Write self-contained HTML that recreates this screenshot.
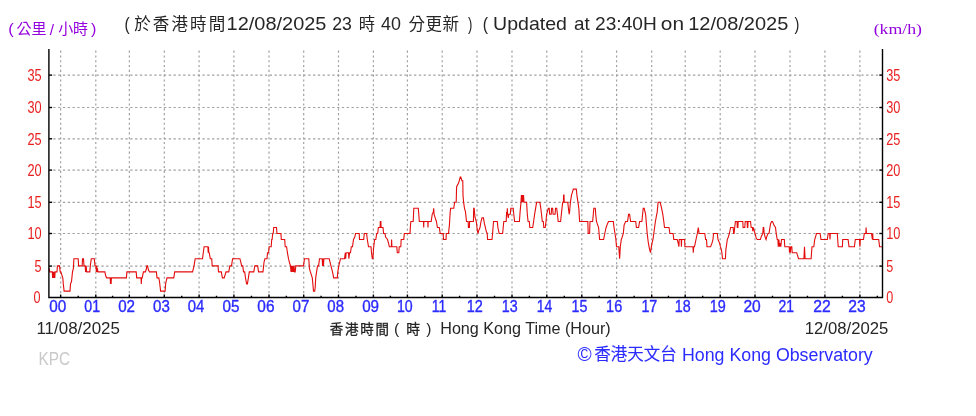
<!DOCTYPE html>
<html><head><meta charset="utf-8"><style>
html,body{margin:0;padding:0;background:#fff;}
body{width:976px;height:416px;overflow:hidden;}
svg{display:block;filter:blur(0.3px);}
.g{stroke:#a0a0a0;stroke-width:1.2;stroke-dasharray:2.3 2.51;}
.gv{stroke:#a0a0a0;stroke-width:1.2;stroke-dasharray:2.1 2.71;}
.d{fill:none;stroke:#e30c0c;stroke-width:1.1;stroke-linejoin:miter;}
.ax{fill:none;stroke:#000;stroke-width:1.4;}
.tk{stroke:#000;stroke-width:1.4;}
text{font-family:"Liberation Sans","Noto Sans CJK TC",sans-serif;white-space:pre;}
.yl{fill:#e82020;font-size:17.2px;}
.xl{fill:#2b2bff;font-size:16px;stroke:#2b2bff;stroke-width:0.35px;}
</style></head><body>
<svg width="976" height="416" viewBox="0 0 976 416">
<line x1="53.28" y1="266.1" x2="881.0" y2="266.1" class="g"/>
<line x1="53.28" y1="233.5" x2="881.0" y2="233.5" class="g"/>
<line x1="53.28" y1="202.3" x2="881.0" y2="202.3" class="g"/>
<line x1="53.28" y1="170.1" x2="881.0" y2="170.1" class="g"/>
<line x1="53.28" y1="138.8" x2="881.0" y2="138.8" class="g"/>
<line x1="53.28" y1="107.5" x2="881.0" y2="107.5" class="g"/>
<line x1="53.28" y1="75.1" x2="881.0" y2="75.1" class="g"/>
<line x1="60.65" y1="50.57" x2="60.65" y2="297.55" class="gv"/>
<line x1="95.80" y1="50.57" x2="95.80" y2="297.55" class="gv"/>
<line x1="129.35" y1="50.57" x2="129.35" y2="297.55" class="gv"/>
<line x1="164.30" y1="50.57" x2="164.30" y2="297.55" class="gv"/>
<line x1="199.10" y1="50.57" x2="199.10" y2="297.55" class="gv"/>
<line x1="233.90" y1="50.57" x2="233.90" y2="297.55" class="gv"/>
<line x1="269.00" y1="50.57" x2="269.00" y2="297.55" class="gv"/>
<line x1="303.70" y1="50.57" x2="303.70" y2="297.55" class="gv"/>
<line x1="338.50" y1="50.57" x2="338.50" y2="297.55" class="gv"/>
<line x1="373.40" y1="50.57" x2="373.40" y2="297.55" class="gv"/>
<line x1="407.40" y1="50.57" x2="407.40" y2="297.55" class="gv"/>
<line x1="442.20" y1="50.57" x2="442.20" y2="297.55" class="gv"/>
<line x1="477.00" y1="50.57" x2="477.00" y2="297.55" class="gv"/>
<line x1="512.00" y1="50.57" x2="512.00" y2="297.55" class="gv"/>
<line x1="546.80" y1="50.57" x2="546.80" y2="297.55" class="gv"/>
<line x1="581.80" y1="50.57" x2="581.80" y2="297.55" class="gv"/>
<line x1="616.60" y1="50.57" x2="616.60" y2="297.55" class="gv"/>
<line x1="651.70" y1="50.57" x2="651.70" y2="297.55" class="gv"/>
<line x1="685.20" y1="50.57" x2="685.20" y2="297.55" class="gv"/>
<line x1="720.20" y1="50.57" x2="720.20" y2="297.55" class="gv"/>
<line x1="755.00" y1="50.57" x2="755.00" y2="297.55" class="gv"/>
<line x1="790.00" y1="50.57" x2="790.00" y2="297.55" class="gv"/>
<line x1="824.90" y1="50.57" x2="824.90" y2="297.55" class="gv"/>
<line x1="859.90" y1="50.57" x2="859.90" y2="297.55" class="gv"/>
<polyline points="49.2,268.30 49.8,271.90 52.3,271.90 52.6,277.90 53.2,271.90 53.7,277.90 54.3,271.90 54.8,277.90 55.1,271.90 57.0,271.90 57.4,265.90 59.5,265.90 60.2,271.90 60.8,271.90 62.8,277.90 63.3,283.90 64.1,291.10 70.0,291.10 70.5,283.90 71.5,281.50 72.5,271.90 73.4,268.30 73.9,258.70 78.2,258.70 78.6,265.90 82.2,265.90 82.5,258.70 83.5,258.70 84.0,265.90 85.2,265.90 85.6,271.90 86.2,265.90 86.6,271.90 89.8,271.90 90.3,265.90 91.3,258.70 94.3,258.70 95.0,265.90 96.0,265.90 96.3,271.90 96.7,265.90 97.1,271.90 97.5,268.30 97.8,271.90 104.9,271.90 105.6,275.50 106.6,277.90 110.2,277.90 110.5,283.90 110.8,277.90 111.1,283.90 111.4,277.90 126.4,277.90 126.9,271.90 136.2,271.90 136.7,277.90 136.8,277.90 141.0,277.90 141.3,283.90 141.6,277.90 142.2,277.90 143.4,271.90 145.4,271.90 146.2,269.50 146.9,265.90 147.6,265.90 148.3,269.50 149.5,271.90 156.4,271.90 157.0,277.90 158.8,277.90 159.5,281.50 160.6,291.10 165.1,291.10 165.6,283.90 166.4,280.30 167.0,277.90 173.8,277.90 174.7,271.90 192.6,271.90 194.0,265.90 195.2,258.70 202.5,258.70 203.3,252.70 204.1,246.70 207.9,246.70 208.2,252.70 208.5,246.70 208.8,252.70 209.2,252.70 210.3,258.70 211.7,258.70 212.2,265.90 218.0,265.90 218.5,271.90 221.3,271.90 222.4,277.90 224.2,277.90 226.0,271.90 228.8,271.90 229.8,265.90 231.5,265.90 232.6,258.70 239.9,258.70 240.9,262.30 241.6,265.90 242.8,265.90 243.5,271.90 244.7,271.90 245.5,277.90 246.6,283.90 247.4,283.90 248.4,277.90 249.3,271.90 253.8,271.90 254.8,265.90 257.7,265.90 258.5,271.90 263.0,271.90 264.0,262.30 264.9,258.70 267.0,258.70 267.5,252.70 268.6,252.70 269.1,246.70 271.2,246.70 271.7,239.50 272.1,239.50 272.7,233.50 273.2,233.50 273.7,227.50 276.5,227.50 277.0,233.50 280.9,233.50 281.3,239.50 284.7,239.50 285.2,246.70 286.6,246.70 287.4,252.70 288.5,258.70 289.4,262.30 290.5,265.90 291.0,271.90 291.6,265.90 292.2,271.90 292.8,265.90 293.4,271.90 294.0,265.90 294.6,271.90 295.2,271.90 295.8,265.90 303.5,265.90 304.5,258.70 308.8,258.70 309.4,268.30 310.4,271.90 312.3,277.90 313.5,291.10 314.7,291.10 315.2,287.50 315.7,277.90 317.1,268.30 317.6,265.90 318.6,265.90 319.5,258.70 322.2,258.70 322.6,265.90 323.0,258.70 323.4,265.90 323.9,258.70 329.2,258.70 330.1,262.30 332.5,271.90 333.7,277.90 337.3,277.90 337.8,271.90 338.8,265.90 340.5,258.70 344.5,258.70 345.3,252.70 345.7,258.70 346.1,252.70 348.5,252.70 348.9,258.70 349.6,252.70 350.5,252.70 351.3,246.70 352.5,246.70 353.5,239.50 354.8,237.10 355.6,233.50 359.2,233.50 359.5,239.50 363.7,239.50 364.3,233.50 366.6,233.50 367.3,239.50 368.5,246.70 371.0,246.70 371.5,252.70 372.3,258.70 372.9,258.70 373.5,249.10 374.6,239.50 375.8,239.50 376.7,233.50 377.7,233.50 378.4,227.50 380.1,227.50 380.3,221.50 380.9,221.50 381.1,227.50 383.0,227.50 383.6,233.50 385.0,233.50 385.6,237.10 387.5,239.50 388.5,243.10 389.4,246.70 391.4,246.70 391.6,239.50 391.9,246.70 396.8,246.70 397.3,252.70 398.8,252.70 399.2,246.70 400.8,246.70 401.2,239.50 403.8,239.50 404.3,233.50 410.0,233.50 410.5,225.10 410.9,221.50 413.2,221.50 413.8,208.30 418.3,208.30 418.8,214.30 419.3,221.50 423.5,221.50 423.7,227.50 423.9,221.50 427.8,221.50 428.0,227.50 428.2,221.50 431.2,221.50 432.2,214.30 433.3,211.90 433.7,208.30 434.1,214.30 435.2,217.90 436.4,221.50 437.4,227.50 439.3,227.50 440.2,233.50 443.2,233.50 443.5,239.50 446.0,239.50 446.3,233.50 448.5,233.50 449.4,225.10 450.2,211.90 450.6,208.30 453.8,208.30 454.6,202.30 456.2,202.30 456.6,186.70 458.6,183.10 460.2,177.10 460.8,177.10 461.9,180.70 462.8,180.70 463.0,195.10 463.6,202.30 464.5,208.30 465.5,211.90 466.5,221.50 468.2,221.50 468.4,227.50 469.4,227.50 469.6,221.50 473.4,221.50 473.7,208.30 474.2,208.30 474.9,216.70 476.3,221.50 477.4,231.10 478.1,233.50 478.5,231.10 480.0,227.50 481.0,221.50 482.0,217.90 483.4,217.90 484.5,223.90 486.2,231.10 487.2,233.50 487.6,239.50 492.0,239.50 492.6,233.50 493.5,221.50 497.3,221.50 497.9,227.50 499.2,233.50 502.6,233.50 503.2,227.50 503.8,221.50 506.2,221.50 506.6,211.90 507.0,214.30 507.3,208.30 507.6,214.30 508.3,217.90 508.8,214.30 510.3,214.30 510.8,208.30 513.2,208.30 513.8,214.30 514.6,221.50 519.4,221.50 520.1,211.90 521.0,202.30 521.4,195.10 522.0,202.30 522.4,195.10 523.0,202.30 523.5,195.10 524.0,202.30 526.6,202.30 527.3,214.30 528.1,221.50 529.3,221.50 529.8,227.50 532.7,227.50 533.6,221.50 534.6,214.30 535.6,208.30 536.6,202.30 539.9,202.30 540.8,208.30 541.5,214.30 542.3,221.50 543.3,221.50 543.8,227.50 545.2,227.50 546.0,221.50 546.6,214.30 548.3,208.30 549.2,208.30 549.7,214.30 551.2,214.30 551.6,208.30 552.6,208.30 553.1,214.30 555.1,214.30 555.5,208.30 556.7,208.30 557.4,214.30 558.2,221.50 560.6,221.50 561.6,211.90 562.7,202.30 563.4,202.30 563.6,195.10 564.0,195.10 564.2,202.30 567.8,202.30 568.4,208.30 569.2,214.30 569.6,211.90 570.4,202.30 571.5,195.10 572.3,192.70 573.3,189.10 576.3,189.10 576.9,195.10 578.0,202.30 578.8,208.30 579.6,221.50 587.8,221.50 588.2,233.50 589.6,233.50 590.0,221.50 592.6,221.50 593.3,214.30 593.8,208.30 595.3,208.30 595.7,214.30 596.5,221.50 597.3,223.90 598.6,227.50 599.6,239.50 603.6,239.50 604.8,233.50 606.1,227.50 607.4,223.90 608.5,221.50 613.3,221.50 614.0,227.50 615.0,233.50 615.9,239.50 616.5,246.70 618.8,246.70 619.2,252.70 619.6,258.70 620.0,252.70 620.3,246.70 621.3,239.50 622.2,237.10 623.3,233.50 624.1,225.10 625.6,221.50 627.5,221.50 628.6,214.30 629.6,214.30 630.6,221.50 635.7,221.50 636.4,227.50 638.6,227.50 639.6,221.50 641.9,221.50 643.2,208.30 644.2,208.30 645.6,214.30 646.5,225.10 647.2,233.50 648.2,241.90 649.5,249.10 650.5,252.70 651.0,249.10 652.0,243.10 653.0,239.50 653.8,233.50 655.4,221.50 657.2,211.90 658.1,202.30 660.2,202.30 661.6,208.30 662.8,214.30 663.8,221.50 664.5,227.50 669.0,227.50 669.9,233.50 673.1,233.50 673.8,239.50 677.2,239.50 678.2,243.10 678.9,246.70 679.2,239.50 681.2,239.50 681.4,246.70 681.7,239.50 684.6,239.50 684.9,246.70 693.0,246.70 693.3,252.70 693.7,246.70 694.5,246.70 696.0,239.50 697.3,233.50 698.3,227.50 699.1,233.50 700.0,233.50 704.8,233.50 705.6,239.50 706.5,239.50 707.0,246.70 710.6,246.70 712.0,243.10 713.0,239.50 713.5,233.50 717.3,233.50 718.0,239.50 719.6,243.10 720.4,246.70 721.2,249.10 721.9,252.70 722.5,258.70 725.4,258.70 725.9,249.10 726.5,245.50 727.3,239.50 728.3,237.10 729.4,233.50 730.6,227.50 733.2,227.50 733.6,233.50 734.1,233.50 734.7,227.50 735.4,221.50 737.0,221.50 737.3,227.50 737.9,227.50 738.2,221.50 742.8,221.50 743.1,227.50 744.8,227.50 745.2,221.50 747.1,221.50 747.4,227.50 747.8,227.50 748.1,221.50 750.5,221.50 751.2,227.50 752.4,227.50 752.8,231.10 753.4,227.50 754.0,229.90 755.0,233.50 756.3,238.30 757.3,239.50 760.4,239.50 761.5,235.90 762.8,233.50 763.2,227.50 763.7,227.50 764.2,233.50 765.5,238.30 766.1,239.50 766.6,237.10 768.0,233.50 769.0,233.50 770.5,223.90 771.6,221.50 772.6,221.50 773.9,225.10 775.5,227.50 776.2,233.50 777.2,239.50 777.9,239.50 778.3,246.70 778.9,239.50 779.5,246.70 780.2,243.10 780.8,246.70 781.5,239.50 784.3,239.50 784.8,246.70 789.2,246.70 789.5,252.70 789.9,246.70 790.3,252.70 790.9,246.70 791.8,246.70 792.2,252.70 796.7,252.70 798.5,258.70 803.9,258.70 804.5,246.70 805.1,258.70 811.1,258.70 812.0,246.70 813.8,246.70 814.7,239.50 816.5,233.50 820.1,233.50 821.0,239.50 827.3,239.50 828.2,233.50 829.7,233.50 830.0,239.50 830.3,233.50 837.3,233.50 838.2,246.70 842.4,246.70 842.7,239.50 848.1,239.50 849.0,246.70 854.4,246.70 855.3,239.50 859.5,239.50 859.9,246.70 860.3,239.50 863.5,239.50 864.3,233.50 865.8,233.50 866.1,227.50 866.4,233.50 871.5,233.50 872.4,239.50 872.7,233.50 873.0,239.50 878.7,239.50 879.6,246.70 882.3,246.70" class="d"/>
<path d="M48.9,49.1 V297.55 H882.5 V49.1" class="ax"/>
<line x1="48.9" y1="266.1" x2="52.1" y2="266.1" class="tk"/>
<line x1="879.3" y1="266.1" x2="882.5" y2="266.1" class="tk"/>
<line x1="48.9" y1="233.5" x2="52.1" y2="233.5" class="tk"/>
<line x1="879.3" y1="233.5" x2="882.5" y2="233.5" class="tk"/>
<line x1="48.9" y1="202.3" x2="52.1" y2="202.3" class="tk"/>
<line x1="879.3" y1="202.3" x2="882.5" y2="202.3" class="tk"/>
<line x1="48.9" y1="170.1" x2="52.1" y2="170.1" class="tk"/>
<line x1="879.3" y1="170.1" x2="882.5" y2="170.1" class="tk"/>
<line x1="48.9" y1="138.8" x2="52.1" y2="138.8" class="tk"/>
<line x1="879.3" y1="138.8" x2="882.5" y2="138.8" class="tk"/>
<line x1="48.9" y1="107.5" x2="52.1" y2="107.5" class="tk"/>
<line x1="879.3" y1="107.5" x2="882.5" y2="107.5" class="tk"/>
<line x1="48.9" y1="75.1" x2="52.1" y2="75.1" class="tk"/>
<line x1="879.3" y1="75.1" x2="882.5" y2="75.1" class="tk"/>
<line x1="60.65" y1="297.55" x2="60.65" y2="294.55" class="tk"/>
<line x1="78.22" y1="297.55" x2="78.22" y2="295.75" class="tk"/>
<line x1="95.80" y1="297.55" x2="95.80" y2="294.55" class="tk"/>
<line x1="112.57" y1="297.55" x2="112.57" y2="295.75" class="tk"/>
<line x1="129.35" y1="297.55" x2="129.35" y2="294.55" class="tk"/>
<line x1="146.82" y1="297.55" x2="146.82" y2="295.75" class="tk"/>
<line x1="164.30" y1="297.55" x2="164.30" y2="294.55" class="tk"/>
<line x1="181.70" y1="297.55" x2="181.70" y2="295.75" class="tk"/>
<line x1="199.10" y1="297.55" x2="199.10" y2="294.55" class="tk"/>
<line x1="216.50" y1="297.55" x2="216.50" y2="295.75" class="tk"/>
<line x1="233.90" y1="297.55" x2="233.90" y2="294.55" class="tk"/>
<line x1="251.45" y1="297.55" x2="251.45" y2="295.75" class="tk"/>
<line x1="269.00" y1="297.55" x2="269.00" y2="294.55" class="tk"/>
<line x1="286.35" y1="297.55" x2="286.35" y2="295.75" class="tk"/>
<line x1="303.70" y1="297.55" x2="303.70" y2="294.55" class="tk"/>
<line x1="321.10" y1="297.55" x2="321.10" y2="295.75" class="tk"/>
<line x1="338.50" y1="297.55" x2="338.50" y2="294.55" class="tk"/>
<line x1="355.95" y1="297.55" x2="355.95" y2="295.75" class="tk"/>
<line x1="373.40" y1="297.55" x2="373.40" y2="294.55" class="tk"/>
<line x1="390.40" y1="297.55" x2="390.40" y2="295.75" class="tk"/>
<line x1="407.40" y1="297.55" x2="407.40" y2="294.55" class="tk"/>
<line x1="424.80" y1="297.55" x2="424.80" y2="295.75" class="tk"/>
<line x1="442.20" y1="297.55" x2="442.20" y2="294.55" class="tk"/>
<line x1="459.60" y1="297.55" x2="459.60" y2="295.75" class="tk"/>
<line x1="477.00" y1="297.55" x2="477.00" y2="294.55" class="tk"/>
<line x1="494.50" y1="297.55" x2="494.50" y2="295.75" class="tk"/>
<line x1="512.00" y1="297.55" x2="512.00" y2="294.55" class="tk"/>
<line x1="529.40" y1="297.55" x2="529.40" y2="295.75" class="tk"/>
<line x1="546.80" y1="297.55" x2="546.80" y2="294.55" class="tk"/>
<line x1="564.30" y1="297.55" x2="564.30" y2="295.75" class="tk"/>
<line x1="581.80" y1="297.55" x2="581.80" y2="294.55" class="tk"/>
<line x1="599.20" y1="297.55" x2="599.20" y2="295.75" class="tk"/>
<line x1="616.60" y1="297.55" x2="616.60" y2="294.55" class="tk"/>
<line x1="634.15" y1="297.55" x2="634.15" y2="295.75" class="tk"/>
<line x1="651.70" y1="297.55" x2="651.70" y2="294.55" class="tk"/>
<line x1="668.45" y1="297.55" x2="668.45" y2="295.75" class="tk"/>
<line x1="685.20" y1="297.55" x2="685.20" y2="294.55" class="tk"/>
<line x1="702.70" y1="297.55" x2="702.70" y2="295.75" class="tk"/>
<line x1="720.20" y1="297.55" x2="720.20" y2="294.55" class="tk"/>
<line x1="737.60" y1="297.55" x2="737.60" y2="295.75" class="tk"/>
<line x1="755.00" y1="297.55" x2="755.00" y2="294.55" class="tk"/>
<line x1="772.50" y1="297.55" x2="772.50" y2="295.75" class="tk"/>
<line x1="790.00" y1="297.55" x2="790.00" y2="294.55" class="tk"/>
<line x1="807.45" y1="297.55" x2="807.45" y2="295.75" class="tk"/>
<line x1="824.90" y1="297.55" x2="824.90" y2="294.55" class="tk"/>
<line x1="842.40" y1="297.55" x2="842.40" y2="295.75" class="tk"/>
<line x1="859.90" y1="297.55" x2="859.90" y2="294.55" class="tk"/>
<line x1="877.30" y1="297.55" x2="877.30" y2="295.75" class="tk"/>
<text x="33.50" y="302.90" class="yl" textLength="7.00" lengthAdjust="spacingAndGlyphs">0</text>
<text x="886.20" y="302.90" class="yl" textLength="7.00" lengthAdjust="spacingAndGlyphs">0</text>
<text x="34.60" y="271.90" class="yl" textLength="7.00" lengthAdjust="spacingAndGlyphs">5</text>
<text x="886.20" y="271.90" class="yl" textLength="7.00" lengthAdjust="spacingAndGlyphs">5</text>
<text x="27.40" y="239.30" class="yl" textLength="14.20" lengthAdjust="spacingAndGlyphs">10</text>
<text x="886.20" y="239.30" class="yl" textLength="14.20" lengthAdjust="spacingAndGlyphs">10</text>
<text x="27.40" y="208.10" class="yl" textLength="14.20" lengthAdjust="spacingAndGlyphs">15</text>
<text x="886.20" y="208.10" class="yl" textLength="14.20" lengthAdjust="spacingAndGlyphs">15</text>
<text x="27.40" y="175.90" class="yl" textLength="14.20" lengthAdjust="spacingAndGlyphs">20</text>
<text x="886.20" y="175.90" class="yl" textLength="14.20" lengthAdjust="spacingAndGlyphs">20</text>
<text x="27.40" y="144.60" class="yl" textLength="14.20" lengthAdjust="spacingAndGlyphs">25</text>
<text x="886.20" y="144.60" class="yl" textLength="14.20" lengthAdjust="spacingAndGlyphs">25</text>
<text x="27.40" y="113.30" class="yl" textLength="14.20" lengthAdjust="spacingAndGlyphs">30</text>
<text x="886.20" y="113.30" class="yl" textLength="14.20" lengthAdjust="spacingAndGlyphs">30</text>
<text x="27.40" y="80.90" class="yl" textLength="14.20" lengthAdjust="spacingAndGlyphs">35</text>
<text x="886.20" y="80.90" class="yl" textLength="14.20" lengthAdjust="spacingAndGlyphs">35</text>
<text x="124.48" y="29.84" style="font-family:'Liberation Sans','Noto Sans CJK TC',sans-serif;font-size:18.5px;fill:#262626;" textLength="5.18" lengthAdjust="spacingAndGlyphs">(</text>
<text x="134.25" y="29.60" style="font-family:'Noto Sans CJK TC','Liberation Sans',sans-serif;font-size:16.5px;fill:#262626;" textLength="90.90" lengthAdjust="spacing">於香港時間</text>
<text x="226.63" y="29.70" style="font-family:'Liberation Sans','Noto Sans CJK TC',sans-serif;font-size:18.2px;fill:#262626;" textLength="99.82" lengthAdjust="spacingAndGlyphs">12/08/2025</text>
<text x="332.15" y="29.70" style="font-family:'Liberation Sans','Noto Sans CJK TC',sans-serif;font-size:18.2px;fill:#262626;" textLength="19.65" lengthAdjust="spacingAndGlyphs">23</text>
<text x="358.80" y="29.60" style="font-family:'Noto Sans CJK TC','Liberation Sans',sans-serif;font-size:16.5px;fill:#262626;" textLength="16.30" lengthAdjust="spacingAndGlyphs">時</text>
<text x="380.97" y="29.70" style="font-family:'Liberation Sans','Noto Sans CJK TC',sans-serif;font-size:18.2px;fill:#262626;" textLength="19.89" lengthAdjust="spacingAndGlyphs">40</text>
<text x="408.41" y="29.60" style="font-family:'Noto Sans CJK TC','Liberation Sans',sans-serif;font-size:16.5px;fill:#262626;" textLength="50.58" lengthAdjust="spacing">分更新</text>
<text x="468.06" y="29.84" style="font-family:'Liberation Sans','Noto Sans CJK TC',sans-serif;font-size:18.5px;fill:#262626;" textLength="4.37" lengthAdjust="spacingAndGlyphs">)</text>
<text x="482.80" y="29.84" style="font-family:'Liberation Sans','Noto Sans CJK TC',sans-serif;font-size:18.5px;fill:#262626;" textLength="5.31" lengthAdjust="spacingAndGlyphs">(</text>
<text x="493.09" y="29.70" style="font-family:'Liberation Sans','Noto Sans CJK TC',sans-serif;font-size:18.2px;fill:#262626;" textLength="73.87" lengthAdjust="spacingAndGlyphs">Updated</text>
<text x="573.92" y="29.70" style="font-family:'Liberation Sans','Noto Sans CJK TC',sans-serif;font-size:18.2px;fill:#262626;" textLength="15.73" lengthAdjust="spacingAndGlyphs">at</text>
<text x="595.10" y="29.70" style="font-family:'Liberation Sans','Noto Sans CJK TC',sans-serif;font-size:18.2px;fill:#262626;" textLength="61.61" lengthAdjust="spacingAndGlyphs">23:40H</text>
<text x="660.86" y="29.70" style="font-family:'Liberation Sans','Noto Sans CJK TC',sans-serif;font-size:18.2px;fill:#262626;" textLength="23.17" lengthAdjust="spacingAndGlyphs">on</text>
<text x="688.19" y="29.70" style="font-family:'Liberation Sans','Noto Sans CJK TC',sans-serif;font-size:18.2px;fill:#262626;" textLength="100.14" lengthAdjust="spacingAndGlyphs">12/08/2025</text>
<text x="794.59" y="29.84" style="font-family:'Liberation Sans','Noto Sans CJK TC',sans-serif;font-size:18.5px;fill:#262626;" textLength="4.87" lengthAdjust="spacingAndGlyphs">)</text>
<text x="8.36" y="33.66" style="font-family:'Liberation Sans','Noto Sans CJK TC',sans-serif;font-size:14px;fill:#9400dd;" textLength="5.50" lengthAdjust="spacingAndGlyphs">(</text>
<text x="16.42" y="34.10" style="font-family:'Noto Sans CJK TC','Liberation Sans',sans-serif;font-size:15px;fill:#9400dd;" textLength="30.18" lengthAdjust="spacing">公里</text>
<text x="49.70" y="35.06" style="font-family:'Liberation Sans','Noto Sans CJK TC',sans-serif;font-size:14px;fill:#9400dd;" textLength="4.30" lengthAdjust="spacingAndGlyphs">/</text>
<text x="58.28" y="34.10" style="font-family:'Noto Sans CJK TC','Liberation Sans',sans-serif;font-size:15px;fill:#9400dd;" textLength="29.76" lengthAdjust="spacing">小時</text>
<text x="91.10" y="33.66" style="font-family:'Liberation Sans','Noto Sans CJK TC',sans-serif;font-size:14px;fill:#9400dd;" textLength="5.37" lengthAdjust="spacingAndGlyphs">)</text>
<text x="873.68" y="33.98" style="font-family:'Liberation Serif','Noto Serif CJK SC',serif;font-size:15px;fill:#9400dd;" textLength="48.29" lengthAdjust="spacingAndGlyphs">(km/h)</text>
<text x="36.46" y="334.28" style="font-family:'Liberation Sans','Noto Sans CJK TC',sans-serif;font-size:16.4px;fill:#262626;" textLength="83.51" lengthAdjust="spacingAndGlyphs">11/08/2025</text>
<text x="329.77" y="334.00" style="font-family:'Noto Sans CJK TC','Liberation Sans',sans-serif;font-size:13.5px;fill:#262626;stroke:#262626;stroke-width:0.3px;" textLength="59.31" lengthAdjust="spacing">香港時間</text>
<text x="393.90" y="333.67" style="font-family:'Liberation Sans','Noto Sans CJK TC',sans-serif;font-size:14px;fill:#262626;" textLength="5.29" lengthAdjust="spacingAndGlyphs">(</text>
<text x="406.19" y="334.00" style="font-family:'Noto Sans CJK TC','Liberation Sans',sans-serif;font-size:13.5px;fill:#262626;stroke:#262626;stroke-width:0.3px;" textLength="13.78" lengthAdjust="spacingAndGlyphs">時</text>
<text x="426.26" y="333.67" style="font-family:'Liberation Sans','Noto Sans CJK TC',sans-serif;font-size:14px;fill:#262626;" textLength="5.17" lengthAdjust="spacingAndGlyphs">)</text>
<text x="440.23" y="334.24" style="font-family:'Liberation Sans','Noto Sans CJK TC',sans-serif;font-size:16px;fill:#262626;" textLength="170.51" lengthAdjust="spacingAndGlyphs">Hong Kong Time (Hour)</text>
<text x="804.80" y="334.28" style="font-family:'Liberation Sans','Noto Sans CJK TC',sans-serif;font-size:16.4px;fill:#262626;" textLength="83.45" lengthAdjust="spacingAndGlyphs">12/08/2025</text>
<text x="38.56" y="364.80" style="font-family:'Liberation Sans','Noto Sans CJK TC',sans-serif;font-size:18px;fill:#c9c9c9;" textLength="31.60" lengthAdjust="spacingAndGlyphs">KPC</text>
<text x="577.43" y="360.50" style="font-family:'Liberation Sans','Noto Sans CJK TC',sans-serif;font-size:20.5px;fill:#2b2bff;" textLength="14.18" lengthAdjust="spacingAndGlyphs">©</text>
<text x="594.28" y="359.56" style="font-family:'Noto Sans CJK TC','Liberation Sans',sans-serif;font-size:16.5px;fill:#2b2bff;stroke:#2b2bff;stroke-width:0.1px;" textLength="82.55" lengthAdjust="spacing">香港天文台</text>
<text x="681.96" y="360.88" style="font-family:'Liberation Sans','Noto Sans CJK TC',sans-serif;font-size:18px;fill:#2b2bff;" textLength="190.80" lengthAdjust="spacingAndGlyphs">Hong Kong Observatory</text>
<text x="49.17" y="311.82" style="font-family:'Liberation Sans','Noto Sans CJK TC',sans-serif;font-size:15.8px;fill:#2b2bff;stroke:#2b2bff;stroke-width:0.35px;" textLength="17.03" lengthAdjust="spacingAndGlyphs">00</text>
<text x="84.32" y="311.82" style="font-family:'Liberation Sans','Noto Sans CJK TC',sans-serif;font-size:15.8px;fill:#2b2bff;stroke:#2b2bff;stroke-width:0.35px;" textLength="15.78" lengthAdjust="spacingAndGlyphs">01</text>
<text x="118.20" y="311.82" style="font-family:'Liberation Sans','Noto Sans CJK TC',sans-serif;font-size:15.8px;fill:#2b2bff;stroke:#2b2bff;stroke-width:0.35px;" textLength="16.88" lengthAdjust="spacingAndGlyphs">02</text>
<text x="153.01" y="311.82" style="font-family:'Liberation Sans','Noto Sans CJK TC',sans-serif;font-size:15.8px;fill:#2b2bff;stroke:#2b2bff;stroke-width:0.35px;" textLength="16.80" lengthAdjust="spacingAndGlyphs">03</text>
<text x="187.70" y="311.82" style="font-family:'Liberation Sans','Noto Sans CJK TC',sans-serif;font-size:15.8px;fill:#2b2bff;stroke:#2b2bff;stroke-width:0.35px;" textLength="16.61" lengthAdjust="spacingAndGlyphs">04</text>
<text x="222.56" y="311.82" style="font-family:'Liberation Sans','Noto Sans CJK TC',sans-serif;font-size:15.8px;fill:#2b2bff;stroke:#2b2bff;stroke-width:0.35px;" textLength="17.01" lengthAdjust="spacingAndGlyphs">05</text>
<text x="257.36" y="311.82" style="font-family:'Liberation Sans','Noto Sans CJK TC',sans-serif;font-size:15.8px;fill:#2b2bff;stroke:#2b2bff;stroke-width:0.35px;" textLength="17.17" lengthAdjust="spacingAndGlyphs">06</text>
<text x="292.54" y="311.82" style="font-family:'Liberation Sans','Noto Sans CJK TC',sans-serif;font-size:15.8px;fill:#2b2bff;stroke:#2b2bff;stroke-width:0.35px;" textLength="16.83" lengthAdjust="spacingAndGlyphs">07</text>
<text x="327.29" y="311.82" style="font-family:'Liberation Sans','Noto Sans CJK TC',sans-serif;font-size:15.8px;fill:#2b2bff;stroke:#2b2bff;stroke-width:0.35px;" textLength="16.70" lengthAdjust="spacingAndGlyphs">08</text>
<text x="362.14" y="311.82" style="font-family:'Liberation Sans','Noto Sans CJK TC',sans-serif;font-size:15.8px;fill:#2b2bff;stroke:#2b2bff;stroke-width:0.35px;" textLength="16.96" lengthAdjust="spacingAndGlyphs">09</text>
<text x="396.99" y="311.82" style="font-family:'Liberation Sans','Noto Sans CJK TC',sans-serif;font-size:15.8px;fill:#2b2bff;stroke:#2b2bff;stroke-width:0.35px;" textLength="15.77" lengthAdjust="spacingAndGlyphs">10</text>
<text x="431.78" y="311.82" style="font-family:'Liberation Sans','Noto Sans CJK TC',sans-serif;font-size:15.8px;fill:#2b2bff;stroke:#2b2bff;stroke-width:0.35px;" textLength="14.50" lengthAdjust="spacingAndGlyphs">11</text>
<text x="466.69" y="311.82" style="font-family:'Liberation Sans','Noto Sans CJK TC',sans-serif;font-size:15.8px;fill:#2b2bff;stroke:#2b2bff;stroke-width:0.35px;" textLength="16.08" lengthAdjust="spacingAndGlyphs">12</text>
<text x="501.83" y="311.82" style="font-family:'Liberation Sans','Noto Sans CJK TC',sans-serif;font-size:15.8px;fill:#2b2bff;stroke:#2b2bff;stroke-width:0.35px;" textLength="15.93" lengthAdjust="spacingAndGlyphs">13</text>
<text x="536.63" y="311.82" style="font-family:'Liberation Sans','Noto Sans CJK TC',sans-serif;font-size:15.8px;fill:#2b2bff;stroke:#2b2bff;stroke-width:0.35px;" textLength="15.57" lengthAdjust="spacingAndGlyphs">14</text>
<text x="571.50" y="311.82" style="font-family:'Liberation Sans','Noto Sans CJK TC',sans-serif;font-size:15.8px;fill:#2b2bff;stroke:#2b2bff;stroke-width:0.35px;" textLength="15.93" lengthAdjust="spacingAndGlyphs">15</text>
<text x="606.12" y="311.82" style="font-family:'Liberation Sans','Noto Sans CJK TC',sans-serif;font-size:15.8px;fill:#2b2bff;stroke:#2b2bff;stroke-width:0.35px;" textLength="16.08" lengthAdjust="spacingAndGlyphs">16</text>
<text x="641.40" y="311.82" style="font-family:'Liberation Sans','Noto Sans CJK TC',sans-serif;font-size:15.8px;fill:#2b2bff;stroke:#2b2bff;stroke-width:0.35px;" textLength="15.96" lengthAdjust="spacingAndGlyphs">17</text>
<text x="674.85" y="311.82" style="font-family:'Liberation Sans','Noto Sans CJK TC',sans-serif;font-size:15.8px;fill:#2b2bff;stroke:#2b2bff;stroke-width:0.35px;" textLength="15.95" lengthAdjust="spacingAndGlyphs">18</text>
<text x="709.73" y="311.82" style="font-family:'Liberation Sans','Noto Sans CJK TC',sans-serif;font-size:15.8px;fill:#2b2bff;stroke:#2b2bff;stroke-width:0.35px;" textLength="16.07" lengthAdjust="spacingAndGlyphs">19</text>
<text x="743.38" y="311.82" style="font-family:'Liberation Sans','Noto Sans CJK TC',sans-serif;font-size:15.8px;fill:#2b2bff;stroke:#2b2bff;stroke-width:0.35px;" textLength="17.38" lengthAdjust="spacingAndGlyphs">20</text>
<text x="778.43" y="311.82" style="font-family:'Liberation Sans','Noto Sans CJK TC',sans-serif;font-size:15.8px;fill:#2b2bff;stroke:#2b2bff;stroke-width:0.35px;" textLength="15.52" lengthAdjust="spacingAndGlyphs">21</text>
<text x="813.20" y="311.82" style="font-family:'Liberation Sans','Noto Sans CJK TC',sans-serif;font-size:15.8px;fill:#2b2bff;stroke:#2b2bff;stroke-width:0.35px;" textLength="17.53" lengthAdjust="spacingAndGlyphs">22</text>
<text x="848.34" y="311.82" style="font-family:'Liberation Sans','Noto Sans CJK TC',sans-serif;font-size:15.8px;fill:#2b2bff;stroke:#2b2bff;stroke-width:0.35px;" textLength="17.36" lengthAdjust="spacingAndGlyphs">23</text>
</svg>
</body></html>
